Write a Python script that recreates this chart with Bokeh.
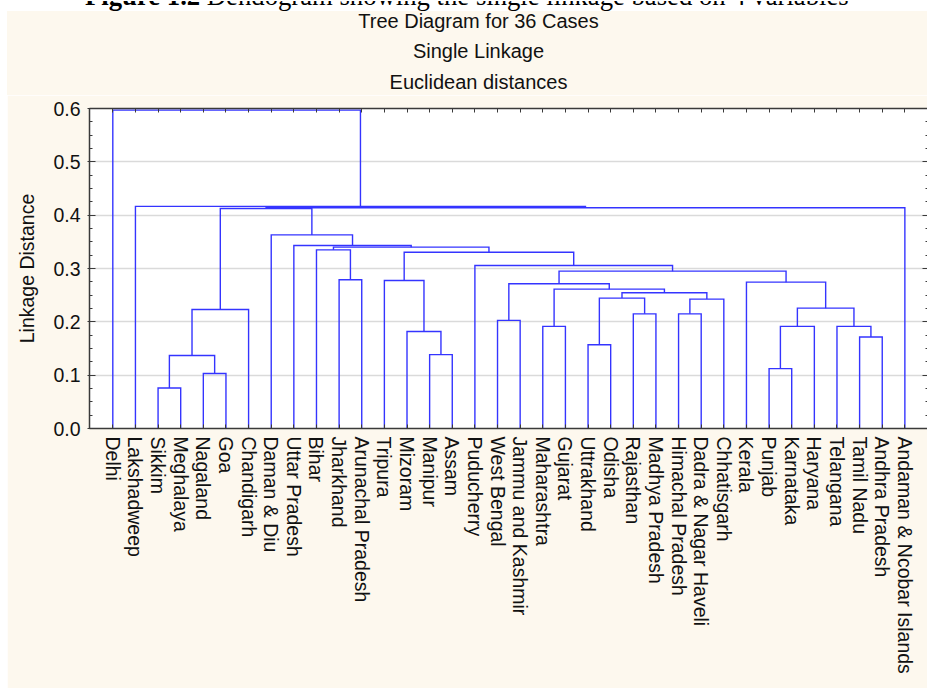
from bokeh.plotting import figure
from bokeh.models import (Range1d, FixedTicker, LinearAxis, PrintfTickFormatter, Div)
from bokeh.layouts import column
from bokeh.embed import file_html
from bokeh.resources import INLINE

# ---------------- data ----------------
caption_bold = "Figure 1.2"
caption_rest = "Dendogram showing the single linkage based on 4 variables"
titles = ["Tree Diagram for 36 Cases", "Single Linkage", "Euclidean distances"]
y_label = "Linkage Distance"

cases = ["Delhi", "Lakshadweep", "Sikkim", "Meghalaya", "Nagaland", "Goa", "Chandigarh",
         "Daman & Diu", "Uttar Pradesh", "Bihar", "Jharkhand", "Arunachal Pradesh", "Tripura",
         "Mizoram", "Manipur", "Assam", "Puducherry", "West Bengal", "Jammu and Kashmir",
         "Maharashtra", "Gujarat", "Uttrakhand", "Odisha", "Rajasthan", "Madhya Pradesh",
         "Himachal Pradesh", "Dadra & Nagar Haveli", "Chhatisgarh", "Kerala", "Punjab",
         "Karnataka", "Haryana", "Telangana", "Tamil Nadu", "Andhra Pradesh",
         "Andaman & Ncobar Islands"]

# merge k creates cluster id 36 + k ; ids 0..35 are the cases above
merge_a = [2, 4, 36, 38, 10, 9, 14, 13, 12, 17, 19, 21, 23, 47, 25, 50, 49, 46, 45,
           29, 55, 33, 32, 56, 28, 54, 16, 44, 41, 8, 7, 39, 67, 1, 0]
merge_b = [3, 5, 37, 6, 11, 40, 15, 42, 43, 18, 20, 22, 24, 48, 26, 27, 51, 52, 53,
           30, 31, 34, 57, 58, 59, 60, 61, 62, 63, 64, 65, 66, 35, 68, 69]
merge_h = [0.076, 0.103, 0.137, 0.223, 0.279, 0.335, 0.1385, 0.182, 0.2775, 0.2027,
           0.1915, 0.157, 0.215, 0.2445, 0.215, 0.2426, 0.2545, 0.2613, 0.2714,
           0.1123, 0.1915, 0.1715, 0.1915, 0.2257, 0.2744, 0.295, 0.3056, 0.3306,
           0.340, 0.343, 0.363, 0.4125, 0.414, 0.4165, 0.597]

y_major = [0.0, 0.1, 0.2, 0.3, 0.4, 0.5, 0.6]
minor_per_interval = 4

# ---------------- styles ----------------
CREAM = "#FDF8EE"
BLUE = "#3434FF"
AX = "#3a3a3a"
TXT = "#111111"
FONT = "Liberation Sans"
FS = "19.5px"

# ---------------- dendrogram layout (computed from the merges) ----------------
n = len(cases)
pos = {i: float(i + 1) for i in range(n)}
hgt = {i: 0.0 for i in range(n)}
xs, ys = [], []
for k, (a, b, h) in enumerate(zip(merge_a, merge_b, merge_h)):
    xa, xb = pos[a], pos[b]
    xs.append([xa, xa, xb, xb])
    ys.append([hgt[a], h, h, hgt[b]])
    pos[n + k] = (xa + xb) / 2.0
    hgt[n + k] = h

y_minor = [lo + j * (hi - lo) / minor_per_interval
           for lo, hi in zip(y_major[:-1], y_major[1:]) for j in range(1, minor_per_interval)]
leaf_ticks = list(range(1, n + 1))

p = figure(width=920, height=593, x_range=Range1d(-0.03, 37.0), y_range=Range1d(0, 0.6),
           output_backend="svg", toolbar_location=None, margin=(0, 0, 0, 7),
           min_border_left=82, min_border_right=0, min_border_top=13, min_border_bottom=260,
           background_fill_color="white", border_fill_color=CREAM, outline_line_color=None)

p.multi_line(xs, ys, line_color=BLUE, line_width=1.4, line_join="miter")

# bottom axis with case names
xa_ = p.xaxis[0]
xa_.ticker = FixedTicker(ticks=leaf_ticks)
xa_.major_label_overrides = {i + 1: c for i, c in enumerate(cases)}
xa_.major_label_orientation = "vertical"
xa_.major_label_text_font = FONT
xa_.major_label_text_font_size = FS
xa_.major_label_text_color = TXT
xa_.major_label_standoff = 8
xa_.major_tick_in = 4
xa_.major_tick_out = 0
xa_.minor_tick_line_color = None
xa_.axis_line_color = AX
xa_.axis_line_width = 1.5
xa_.major_tick_line_color = AX

# left axis
ya_ = p.yaxis[0]
ya_.ticker = FixedTicker(ticks=y_major, minor_ticks=y_minor)
ya_.formatter = PrintfTickFormatter(format="%.1f")
ya_.major_label_text_font = FONT
ya_.major_label_text_font_size = FS
ya_.major_label_text_color = TXT
ya_.major_label_standoff = 7
ya_.major_tick_in = 6
ya_.major_tick_out = 2
ya_.minor_tick_in = 3
ya_.minor_tick_out = 0
ya_.axis_line_color = AX
ya_.axis_line_width = 1.5
ya_.major_tick_line_color = AX
ya_.minor_tick_line_color = AX
ya_.axis_label = y_label
ya_.axis_label_text_font = FONT
ya_.axis_label_text_font_size = FS
ya_.axis_label_text_font_style = "normal"
ya_.axis_label_text_color = TXT
ya_.axis_label_standoff = 12

# top axis: ticks only
top = LinearAxis(ticker=FixedTicker(ticks=leaf_ticks), major_label_text_font_size="0px",
                 major_label_text_color=None, major_label_standoff=0,
                 major_tick_in=4, major_tick_out=0,
                 minor_tick_line_color=None, axis_line_color=AX, axis_line_width=1.5,
                 major_tick_line_color=AX)
p.add_layout(top, "above")

# right axis: ticks only
right = LinearAxis(ticker=FixedTicker(ticks=y_major, minor_ticks=y_minor),
                   major_label_text_font_size="0px", major_label_text_color=None,
                   major_label_standoff=0,
                   major_tick_in=5, major_tick_out=0, minor_tick_in=2, minor_tick_out=0,
                   axis_line_color=None, major_tick_line_color=AX, minor_tick_line_color=AX)
p.add_layout(right, "right")

p.xgrid.visible = False
p.ygrid.ticker = FixedTicker(ticks=y_major)
p.ygrid.grid_line_color = "#dadada"
p.ygrid.grid_line_width = 1.5

# caption (cut at the top, as in the source page)
cap = Div(text=('<div style="position:relative; width:927px; height:11px; overflow:hidden;">'
                '<div style="position:absolute; left:85px; top:-18px; '
                'font-family:\'Liberation Serif\'; font-size:26.7px; line-height:27px; '
                'white-space:nowrap; color:#000;">'
                '<b>' + caption_bold + '</b> ' + caption_rest + '</div></div>'),
          width=927, height=11, margin=(0, 0, 0, 0),
          styles={"overflow": "hidden", "background-color": "white"})

# stacked chart titles
line_tops = [0, 30, 61]
head_html = ('<div style="position:relative; width:920px; height:84px; '
             'font-family:\'Liberation Sans\'; font-size:20px; line-height:20px; color:%s;">' % TXT)
for t, top_px in zip(titles, line_tops):
    head_html += ('<div style="position:absolute; left:471.5px; top:%dpx; '
                  'transform:translateX(-50%%); white-space:nowrap;">%s</div>' % (top_px, t))
head_html += '</div>'
head = Div(text=head_html, width=920, height=84, margin=(0, 0, 0, 7),
           styles={"background-color": CREAM, "overflow": "hidden"})

layout = column(cap, head, p, spacing=0)
open("out.html", "w").write(file_html(layout, INLINE))
